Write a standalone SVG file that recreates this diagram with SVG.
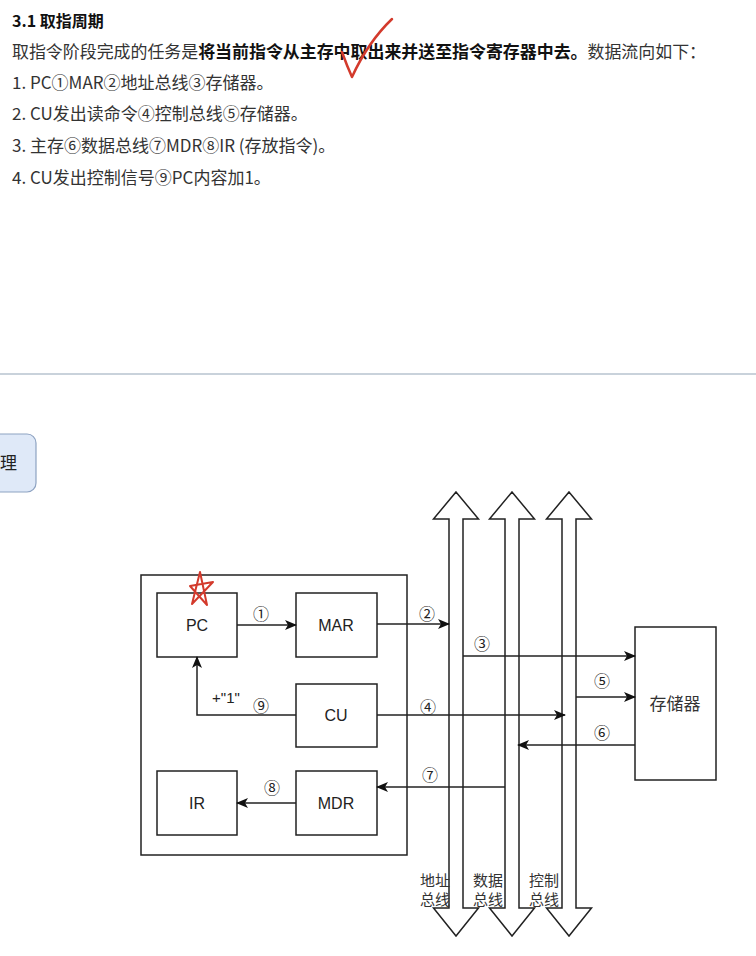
<svg xmlns="http://www.w3.org/2000/svg" width="756" height="956" viewBox="0 0 756 956">
<style>
.t{font-family:"Noto Sans CJK SC","Liberation Sans",sans-serif;font-size:17px;fill:#333}
.b{font-weight:bold;fill:#111}
.box{fill:#fff;stroke:#222;stroke-width:1.5}
.lbl{font-family:"Liberation Sans","Noto Sans CJK SC",sans-serif;font-size:16px;fill:#222;text-anchor:middle;dominant-baseline:central}
.cn{font-family:"Noto Sans CJK SC",sans-serif;font-size:15px;fill:#333;text-anchor:middle}
.num{font-family:"Noto Sans CJK SC","DejaVu Sans",sans-serif;font-size:16px;fill:#222;text-anchor:middle;dominant-baseline:central}
.ln{fill:none;stroke:#222;stroke-width:1.5}
.bus{fill:none;stroke:#222;stroke-width:1.5;stroke-linejoin:miter}
.red{fill:none;stroke:#d33a2c;stroke-width:2.5;stroke-linecap:round;stroke-linejoin:round}
</style>
<defs>
<marker id="ah" viewBox="0 0 12 10" refX="11" refY="5" markerWidth="12" markerHeight="10" markerUnits="userSpaceOnUse" orient="auto">
<path d="M0,0 L12,5 L0,10 L3,5 Z" fill="#111"/>
</marker>
</defs>
<rect width="756" height="956" fill="#fff"/>
<g id="text">
<text class="t b" x="12" y="27" style="font-size:16px">3.1 取指周期</text>
<text class="t" x="12" y="58" textLength="694" lengthAdjust="spacingAndGlyphs">取指令阶段完成的任务是<tspan class="b">将当前指令从主存中取出来并送至指令寄存器中去。</tspan>数据流向如下：</text>
<text class="t" x="12" y="89">1. PC①MAR②地址总线③存储器。</text>
<text class="t" x="12" y="120">2. CU发出读命令④控制总线⑤存储器。</text>
<text class="t" x="12" y="152">3. 主存⑥数据总线⑦MDR⑧IR (存放指令)。</text>
<text class="t" x="12" y="184">4. CU发出控制信号⑨PC内容加1。</text>
</g>
<path id="check" class="red" d="M342,52 Q347,66 352,77 Q368,42 392,19"/>
<line x1="0" y1="374" x2="756" y2="374" stroke="#c9d2db" stroke-width="2"/>
<g id="btn">
<rect x="-20" y="434" width="56" height="58" rx="9" fill="#dfe9f8" stroke="#8ea3c2" stroke-width="1.2"/>
<text class="t" x="0" y="469" style="fill:#222">理</text>
</g>
<rect id="cpu" class="box" x="141" y="575" width="266" height="280" fill="none"/>
<g id="buses">
<path id="bus-addr" class="bus" d="M456,492 L478.5,519 L463,519 L463,908 L478.5,908 L456,936 L433.5,908 L449,908 L449,519 L433.5,519 Z"/>
<path id="bus-data" class="bus" d="M512,492 L534.5,519 L519,519 L519,908 L534.5,908 L512,936 L489.5,908 L505,908 L505,519 L489.5,519 Z"/>
<path id="bus-ctrl" class="bus" d="M569,492 L591.5,519 L576,519 L576,908 L591.5,908 L569,936 L546.5,908 L562,908 L562,519 L546.5,519 Z"/>
<text class="cn" x="435" y="886">地址</text>
<text class="cn" x="435" y="905">总线</text>
<text class="cn" x="488" y="886">数据</text>
<text class="cn" x="488" y="905">总线</text>
<text class="cn" x="544" y="886">控制</text>
<text class="cn" x="544" y="905">总线</text>
</g>
<g id="PC"><rect class="box" x="157" y="593" width="80" height="64"/><text class="lbl" x="197" y="625">PC</text></g>
<g id="MAR"><rect class="box" x="296" y="593" width="81" height="64"/><text class="lbl" x="336" y="625">MAR</text></g>
<g id="CU"><rect class="box" x="296" y="684" width="81" height="63"/><text class="lbl" x="336" y="715">CU</text></g>
<g id="IR"><rect class="box" x="157" y="771" width="80" height="64"/><text class="lbl" x="197" y="803">IR</text></g>
<g id="MDR"><rect class="box" x="296" y="771" width="81" height="64"/><text class="lbl" x="336" y="803">MDR</text></g>
<g id="MEM"><rect class="box" x="635" y="627" width="81" height="153"/><text class="cn" x="675" y="710" style="font-size:17px">存储器</text></g>
<g id="connectors">
<line class="ln" x1="237" y1="625" x2="296" y2="625" marker-end="url(#ah)"/>
<line class="ln" x1="377" y1="624" x2="449" y2="624" marker-end="url(#ah)"/>
<line class="ln" x1="463" y1="656" x2="635" y2="656" marker-end="url(#ah)"/>
<line class="ln" x1="377" y1="715" x2="565" y2="715" marker-end="url(#ah)"/>
<line class="ln" x1="576" y1="697" x2="635" y2="697" marker-end="url(#ah)"/>
<line class="ln" x1="635" y1="745" x2="518" y2="745" marker-end="url(#ah)"/>
<line class="ln" x1="505" y1="787" x2="377" y2="787" marker-end="url(#ah)"/>
<line class="ln" x1="296" y1="803" x2="237" y2="803" marker-end="url(#ah)"/>
<polyline class="ln" points="296,715 197,715 197,657" marker-end="url(#ah)"/>
<text class="num" x="261" y="613">①</text>
<text class="num" x="427" y="613">②</text>
<text class="num" x="482" y="643">③</text>
<text class="num" x="428" y="706">④</text>
<text class="num" x="602" y="680">⑤</text>
<text class="num" x="602" y="732">⑥</text>
<text class="num" x="430" y="774">⑦</text>
<text class="num" x="272" y="787">⑧</text>
<text class="num" x="261" y="705">⑨</text>
<text class="lbl" x="226" y="697" style="font-size:15px">+"1"</text>
</g>
<path id="star" class="red" style="stroke-width:2" d="M190,586 L213,582 L192,604 L200,572 L207,605 Z"/>
</svg>
